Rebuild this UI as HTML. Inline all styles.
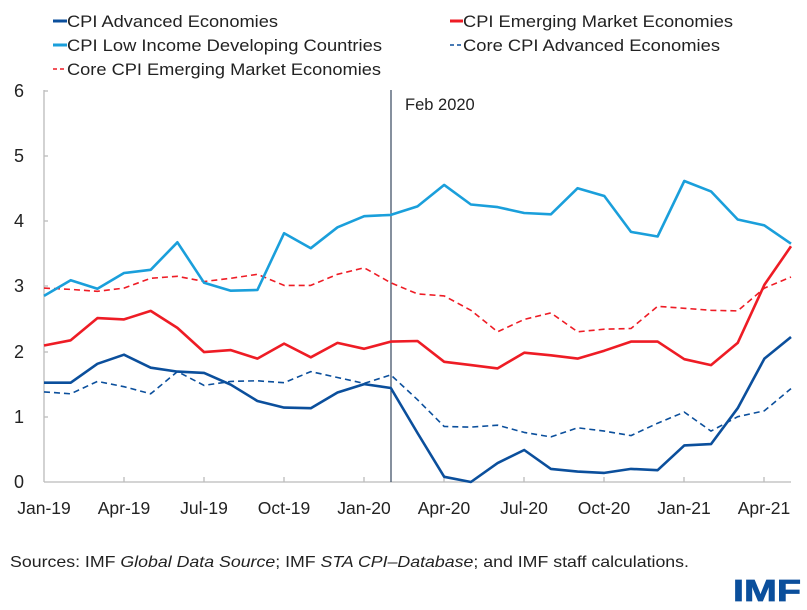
<!DOCTYPE html>
<html><head><meta charset="utf-8"><style>
html,body{margin:0;padding:0;background:#fff;}
svg{display:block;font-family:"Liberation Sans",sans-serif;}
</style></head><body>
<svg width="807" height="610" viewBox="0 0 807 610" xmlns="http://www.w3.org/2000/svg">
<g font-size="16.5" fill="#222">
<line x1="53" y1="21" x2="67" y2="21" stroke="#0b4f9c" stroke-width="3"/>
<text x="67" y="27" textLength="211" lengthAdjust="spacingAndGlyphs">CPI Advanced Economies</text>
<line x1="53" y1="45" x2="67" y2="45" stroke="#1a9fdb" stroke-width="3"/>
<text x="67" y="51" textLength="315" lengthAdjust="spacingAndGlyphs">CPI Low Income Developing Countries</text>
<line x1="53" y1="69" x2="67" y2="69" stroke="#ee1c25" stroke-width="1.5" stroke-dasharray="4,3"/>
<text x="67" y="75" textLength="314" lengthAdjust="spacingAndGlyphs">Core CPI Emerging Market Economies</text>
<line x1="450" y1="21" x2="463" y2="21" stroke="#ee1c25" stroke-width="3"/>
<text x="463" y="27" textLength="270" lengthAdjust="spacingAndGlyphs">CPI Emerging Market Economies</text>
<line x1="450" y1="45" x2="463" y2="45" stroke="#0b4f9c" stroke-width="1.5" stroke-dasharray="4,3"/>
<text x="463" y="51" textLength="257" lengthAdjust="spacingAndGlyphs">Core CPI Advanced Economies</text>
</g>
<g stroke="#bbb" stroke-width="1.3" fill="none">
<line x1="44" y1="90" x2="44" y2="482"/>
<line x1="44" y1="482" x2="791" y2="482"/>
<line x1="44" y1="91" x2="48" y2="91"/>
<line x1="44" y1="156" x2="48" y2="156"/>
<line x1="44" y1="221" x2="48" y2="221"/>
<line x1="44" y1="286" x2="48" y2="286"/>
<line x1="44" y1="352" x2="48" y2="352"/>
<line x1="44" y1="417" x2="48" y2="417"/>
<line x1="124" y1="482" x2="124" y2="477"/><line x1="204" y1="482" x2="204" y2="477"/>
<line x1="284" y1="482" x2="284" y2="477"/><line x1="364" y1="482" x2="364" y2="477"/>
<line x1="444" y1="482" x2="444" y2="477"/><line x1="524" y1="482" x2="524" y2="477"/>
<line x1="604" y1="482" x2="604" y2="477"/><line x1="684" y1="482" x2="684" y2="477"/>
<line x1="764" y1="482" x2="764" y2="477"/>
</g>
<line x1="391" y1="90" x2="391" y2="482" stroke="#44546a" stroke-width="1.3"/>
<text x="405" y="110" font-size="16.5" fill="#222">Feb 2020</text>
<g font-size="18" fill="#222" text-anchor="middle">
<text x="19" y="97">6</text><text x="19" y="162">5</text><text x="19" y="227">4</text>
<text x="19" y="292">3</text><text x="19" y="358">2</text><text x="19" y="423">1</text>
<text x="19" y="488">0</text>
</g>
<g font-size="17.5" fill="#222" text-anchor="middle">
<text x="44" y="514">Jan-19</text><text x="124" y="514">Apr-19</text><text x="204" y="514">Jul-19</text>
<text x="284" y="514">Oct-19</text><text x="364" y="514">Jan-20</text><text x="444" y="514">Apr-20</text>
<text x="524" y="514">Jul-20</text><text x="604" y="514">Oct-20</text><text x="684" y="514">Jan-21</text>
<text x="764" y="514">Apr-21</text>
</g>
<g fill="none" stroke-linejoin="round">
<polyline id="core_em" stroke="#ee1c25" stroke-width="1.6" stroke-dasharray="6,4" points=""/>
<polyline id="core_ae" stroke="#0b4f9c" stroke-width="1.6" stroke-dasharray="6,4" points=""/>
<polyline id="lidc" stroke="#1a9fdb" stroke-width="2.6" points=""/>
<polyline id="em" stroke="#ee1c25" stroke-width="2.6" points=""/>
<polyline id="ae" stroke="#0b4f9c" stroke-width="2.6" points=""/>
</g>
<text x="10" y="567" font-size="16" fill="#222" textLength="679" lengthAdjust="spacingAndGlyphs">Sources: IMF <tspan font-style="italic">Global Data Source</tspan>; IMF <tspan font-style="italic">STA CPI–Database</tspan>; and IMF staff calculations.</text>
<text x="733" y="601" font-size="31" font-weight="bold" fill="#0b4f9c" stroke="#0b4f9c" stroke-width="0.8" textLength="68" lengthAdjust="spacingAndGlyphs">IMF</text>
<script>
var d={
lidc:[2.85,3.09,2.96,3.20,3.25,3.67,3.05,2.93,2.94,3.81,3.58,3.90,4.07,4.09,4.22,4.55,4.25,4.21,4.12,4.10,4.50,4.38,3.83,3.76,4.61,4.45,4.02,3.93,3.65],
em:[2.09,2.17,2.51,2.49,2.62,2.36,1.99,2.02,1.89,2.12,1.91,2.13,2.04,2.15,2.16,1.84,1.79,1.74,1.98,1.94,1.89,2.01,2.15,2.15,1.88,1.79,2.13,3.02,3.61],
core_em:[2.97,2.95,2.92,2.97,3.12,3.15,3.07,3.12,3.18,3.01,3.01,3.18,3.28,3.05,2.88,2.85,2.63,2.30,2.49,2.59,2.30,2.34,2.35,2.69,2.66,2.63,2.62,2.97,3.14],
ae:[1.52,1.52,1.81,1.95,1.75,1.69,1.67,1.49,1.24,1.14,1.13,1.37,1.50,1.44,0.75,0.08,0.0,0.29,0.49,0.20,0.16,0.14,0.20,0.18,0.56,0.58,1.13,1.89,2.22],
core_ae:[1.38,1.35,1.54,1.46,1.35,1.69,1.48,1.54,1.55,1.52,1.69,1.60,1.51,1.64,1.26,0.85,0.84,0.87,0.76,0.69,0.83,0.78,0.71,0.90,1.07,0.78,1.00,1.09,1.43]};
for(var k in d){var p=d[k].map(function(v,i){return (44+i*26.68).toFixed(1)+','+(482-v*65.3).toFixed(1);}).join(' ');document.getElementById(k).setAttribute('points',p);}
</script>
</svg>
</body></html>
